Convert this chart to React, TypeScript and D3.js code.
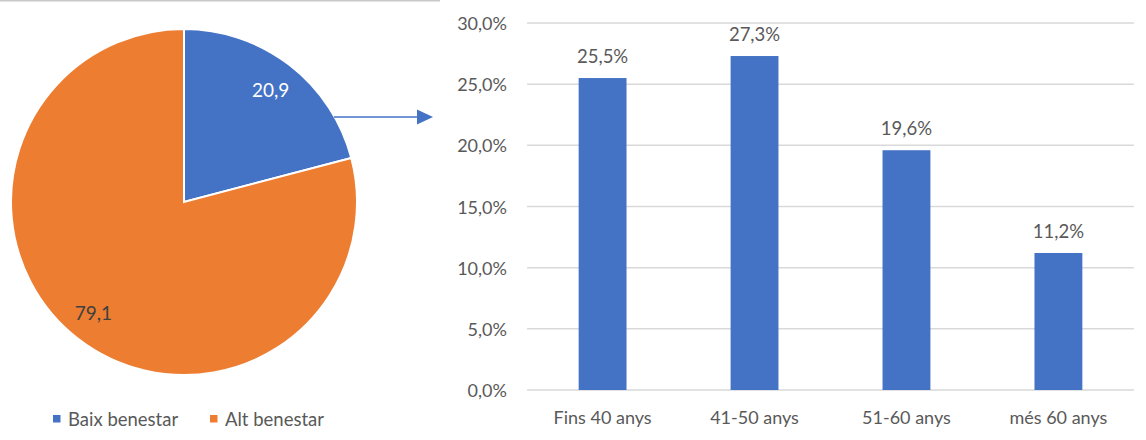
import React from "react";
import * as d3 from "d3";

const pieLabels = ["Baix benestar", "Alt benestar"];
const pieValues = [20.9, 79.1];
const pieColors = ["#4472C4", "#ED7D31"];

const barCategories = ["Fins 40 anys", "41-50 anys", "51-60 anys", "més 60 anys"];
const barValues = [25.5, 27.3, 19.6, 11.2];
const yTicks = [0, 5, 10, 15, 20, 25, 30];

const W = 1146;
const H = 440;
const FONT = "Lato, 'Open Sans', sans-serif";
const TXT = "#595959";

const fmt1 = (v: number) => v.toFixed(1).replace(".", ",");

export default function App() {
  // Pie
  const cx = 184, cy = 202, r = 173;
  const pie = d3.pie<number>().sort(null).value((d) => d)(pieValues);
  const arc = d3.arc<d3.PieArcDatum<number>>().innerRadius(0).outerRadius(r);
  const labelArc = d3.arc<d3.PieArcDatum<number>>().innerRadius(r * 0.82).outerRadius(r * 0.82);

  // Bars
  const x = d3.scaleBand<string>().domain(barCategories).range([527, 1134]).paddingInner(0.685).paddingOuter(0.34);
  const y = d3.scaleLinear().domain([0, 30]).range([390, 23]);

  return (
    <div style={{ position: "fixed", left: 0, top: 0, width: W, height: H, background: "#fff" }}>
      <svg width={W} height={H} style={{ display: "block" }} fontFamily={FONT}>
        <rect x={0} y={0} width={440} height={1.5} fill="#c8c8c8" />
        <g transform={`translate(${cx},${cy})`}>
          {pie.map((p, i) => (
            <path key={i} d={arc(p) || ""} fill={pieColors[i]} stroke="#fff" strokeWidth={2} />
          ))}
          {pie.map((p, i) => {
            const [lx, ly] = labelArc.centroid(p);
            return (
              <text key={i} x={lx - (i === 1 ? 4 : 0)} y={ly - (i === 1 ? 2 : 0)} textAnchor="middle"
                dominantBaseline="central" fontSize={19}
                fill={i === 0 ? "#ffffff" : "#404040"}>
                {fmt1(pieValues[i])}
              </text>
            );
          })}
        </g>
        {/* legend */}
        {pieLabels.map((l, i) => {
          const lx = i === 0 ? 53 : 210;
          return (
            <g key={l}>
              <rect x={lx} y={415} width={7.5} height={7.5} fill={pieColors[i]} />
              <text x={lx + 15} y={418.5} dominantBaseline="central" fontSize={18.5} fill={TXT}>{l}</text>
            </g>
          );
        })}
        {/* arrow */}
        <line x1={334} y1={117} x2={420} y2={117} stroke="#4472C4" strokeWidth={1.5} />
        <path d="M417,109.5 L433,117 L417,124.5 Z" fill="#4472C4" />

        {/* bar chart */}
        {yTicks.map((t) => (
          <g key={t}>
            <line x1={527} x2={1134} y1={y(t)} y2={y(t)} stroke="#d9d9d9" strokeWidth={1.5} />
            <text x={507} y={y(t)} textAnchor="end" dominantBaseline="central" fontSize={18} fill={TXT}>
              {fmt1(t)}%
            </text>
          </g>
        ))}
        {barCategories.map((c, i) => (
          <g key={c}>
            <rect x={x(c)} y={y(barValues[i])} width={x.bandwidth()} height={y(0) - y(barValues[i])} fill="#4472C4" />
            <text x={(x(c) as number) + x.bandwidth() / 2} y={y(barValues[i]) - 22} textAnchor="middle"
              dominantBaseline="central" fontSize={18.5} fill={TXT}>
              {fmt1(barValues[i])}%
            </text>
            <text x={(x(c) as number) + x.bandwidth() / 2} y={417} textAnchor="middle" dominantBaseline="central"
              fontSize={18} fill={TXT}>
              {c}
            </text>
          </g>
        ))}
      </svg>
    </div>
  );
}
